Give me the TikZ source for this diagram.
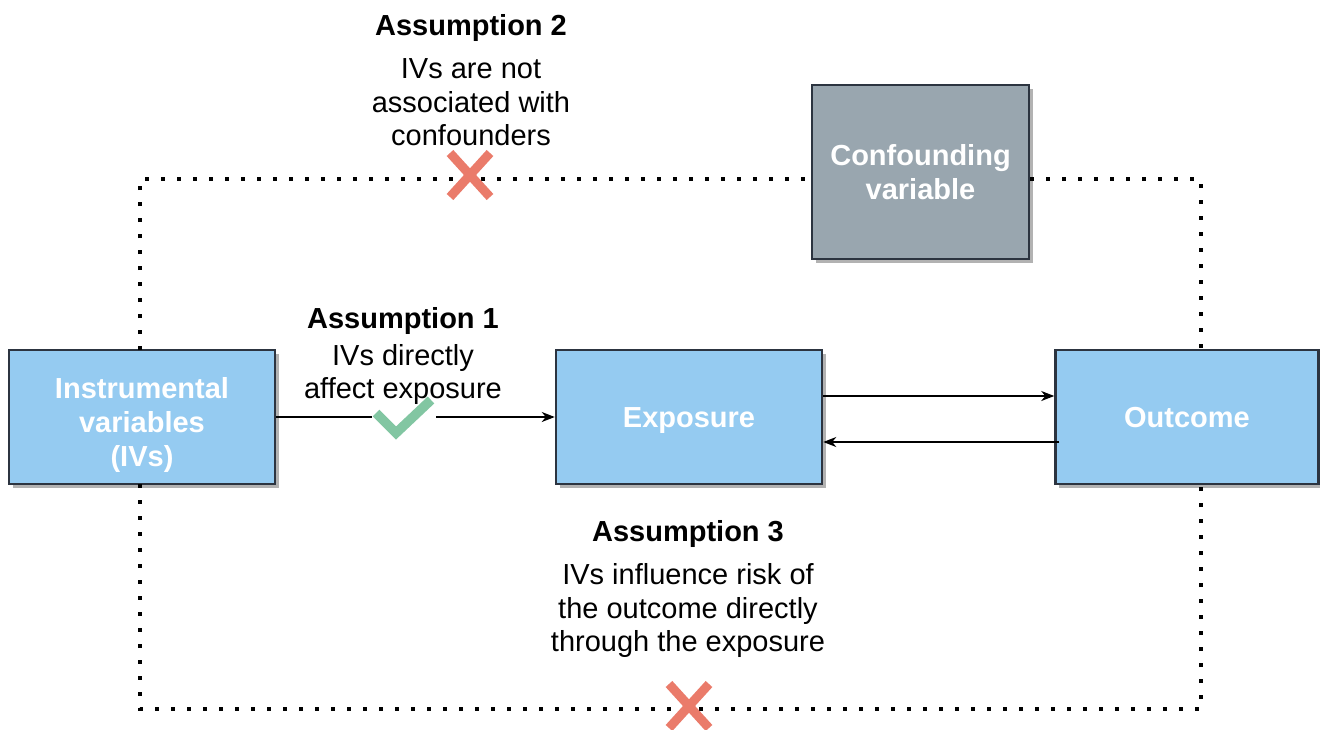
\documentclass[tikz,border=0pt]{standalone}
\usepackage{fontspec}
\setmainfont{Liberation Sans}
\usetikzlibrary{arrows.meta,shadows,calc}
\definecolor{boxblue}{HTML}{95CBF1}
\definecolor{boxgrey}{HTML}{99A6AF}
\definecolor{boxedge}{HTML}{2C3440}
\definecolor{crossred}{HTML}{EA7B6A}
\definecolor{tickgreen}{HTML}{82C6A2}
\tikzset{
  varbox/.style={draw=boxedge, line width=2.5pt, fill=boxblue, text=white,
    font=\fontsize{29}{34}\selectfont\bfseries, align=center,
    drop shadow={shadow xshift=3.5pt, shadow yshift=-3.5pt, fill=black!30, opacity=1},
    inner sep=0pt, text depth=0pt},
  conbox/.style={varbox, fill=boxgrey},
  lbl/.style={align=center, font=\fontsize{29}{33.5}\selectfont, inner sep=0pt},
  dotline/.style={line width=4pt, dash pattern=on 4pt off 12pt},
  arr/.style={line width=1.4pt, -{Stealth[length=13pt,width=10pt,inset=4pt]}},
  plainln/.style={line width=1.4pt},
  xmark/.style={line width=9pt, draw=crossred},
  tmark/.style={line width=9.5pt, draw=tickgreen},
}
\begin{document}
\begin{tikzpicture}[x=1pt,y=-1pt]
\useasboundingbox (0,0) rectangle (1320,729);
% boxes
\node[varbox, minimum width=266pt, minimum height=134pt, text height=98.8pt] (iv) at (142,417) {Instrumental\\variables\\(IVs)};
\node[varbox, minimum width=266pt, minimum height=134pt, text height=20.8pt] (exp) at (689,417) {Exposure};
\node[varbox, minimum width=263pt, minimum height=134pt, text height=20.8pt] (out) at (1187,417) {Outcome};
\node[conbox, minimum width=217pt, minimum height=174pt, text height=54.8pt] (conf) at (920.5,172) {Confounding\\variable};
% dotted corner coordinates
\coordinate (tl) at (140,179);
\coordinate (tr) at (1201,179);
\coordinate (bl) at (140,709);
\coordinate (br) at (1201,709);
\coordinate (ivtop) at (140,350);
\coordinate (ivbot) at (140,484);
\coordinate (outtop) at (1201,350);
\coordinate (outbot) at (1201,484);
\draw[dotline] (ivtop) -- (tl) -- (conf.west |- tl);
\draw[dotline] (conf.east |- tr) -- (tr) -- (outtop);
\draw[dotline] (ivbot) -- (bl) -- (br) -- (outbot);
% arrows
\coordinate (chkL) at (372,417);
\coordinate (chkR) at (436,417);
\draw[plainln] (iv.east) -- (chkL);
\draw[arr] (chkR) -- (exp.west);
\draw[arr] (exp.east |- 0,396) -- (out.west |- 0,396);
\draw[arr] (out.west |- 0,442) ++(5,0) -- (exp.east |- 0,442);
% labels
\node[lbl] (a2) at (471,80) {\textbf{Assumption 2}\\[10pt]IVs are not\\associated with\\confounders};
\node[lbl] (a1) at (403,356) {\textbf{Assumption 1}\\[3pt]IVs directly\\affect exposure};
\node[lbl] (a3) at (688,589) {\textbf{Assumption 3}\\[10pt]IVs influence risk of\\the outcome directly\\through the exposure};
% marks
\coordinate (x1) at (470,175);
\coordinate (x2) at (689,706);
\draw[xmark] ($(x1)+(-20,-22)$) -- ($(x1)+(20,22)$) ($(x1)+(20,-22)$) -- ($(x1)+(-20,22)$);
\draw[xmark] ($(x2)+(-20,-22)$) -- ($(x2)+(20,22)$) ($(x2)+(20,-22)$) -- ($(x2)+(-20,22)$);
\draw[tmark] (376,413) -- (396,433) -- (431,400);
\end{tikzpicture}
\end{document}
